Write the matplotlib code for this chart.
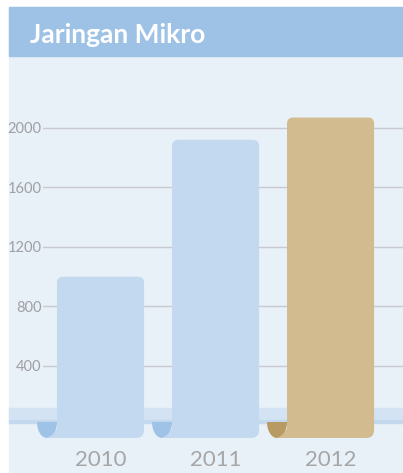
import numpy as np
import matplotlib
matplotlib.use('Agg')
import matplotlib.pyplot as plt
from matplotlib.patches import Rectangle, PathPatch
from matplotlib.path import Path
from matplotlib.transforms import IdentityTransform

# data
years = ['2010', '2011', '2012']
values = [1000, 1920, 2070]
bar_colors = ['#c2d9ef', '#c2d9ef', '#d1bb8f']
curl_colors = ['#9fc3e7', '#9fc3e7', '#b89b62']
yticks = [400, 800, 1200, 1600, 2000]

W, H = 403, 473
fig = plt.figure(figsize=(W / 100, H / 100), dpi=100)
fig.patch.set_facecolor('white')

# panel background, header and baseline band (pixel layout)
def frect(x, y, w, h, c):
    fig.patches.append(Rectangle((x / W, 1 - (y + h) / H), w / W, h / H,
                                 transform=fig.transFigure, color=c, zorder=-10))

frect(9, 7, W - 9, H - 7, '#e8f0f8')
frect(9, 7, W - 9, 49, '#9dc2e6')
frect(9, 408, W - 9, 12, '#d3e3f4')
frect(9, 420, W - 9, 3, '#c4d9ee')

fig.text(30 / W, 1 - 43 / H, 'Jaringan Mikro', color='white', fontsize=19,
         fontweight='bold', family='Lato', va='baseline')

ax = fig.add_axes([43 / W, 1 - 440 / H, (W - 43) / W, 340 / H])
ax.patch.set_alpha(0)
ax.set_xlim(-0.5, 2.63)
ax.set_ylim(-97.5, 2188)
for s in ax.spines.values():
    s.set_visible(False)
ax.set_axisbelow(True)
ax.yaxis.grid(True, color='#c9cacf', lw=1)
ax.set_yticks(yticks)
ax.set_yticklabels([str(t) for t in yticks], family='Lato')
ax.set_xticks(range(len(years)))
ax.set_xticklabels(years, family='Lato')
ax.tick_params(axis='y', length=0, pad=1, labelsize=10.5, labelcolor='#a0a0a4')
ax.tick_params(axis='x', length=0, pad=7, labelsize=16, labelcolor='#a6a6a6')

# bars with rounded tops and a rolled bottom-left corner
bw = 0.757
drop = 12.5
for i, v in enumerate(values):
    x0, yb = ax.transData.transform((i - bw / 2, 0))
    x1, yt = ax.transData.transform((i + bw / 2, v))
    b = yb - drop
    # curl behind the bar
    th = np.linspace(np.pi, 2 * np.pi, 40)
    cx, cy = x0 - 10, b + 16
    cverts = np.column_stack([cx + 10 * np.cos(th), cy + 16 * np.sin(th)])
    curl = PathPatch(Path(np.vstack([cverts, cverts[:1]])), transform=IdentityTransform(),
                     color=curl_colors[i], lw=0, clip_on=False, zorder=2)
    ax.add_patch(curl)
    r, r2 = 6, 8
    verts = [(x0, b + 10), (x0, yt - r), (x0, yt), (x0 + r, yt),
             (x1 - r, yt), (x1, yt), (x1, yt - r),
             (x1, b + r2), (x1, b), (x1 - r2, b),
             (x0 - 11, b), (x0 - 3, b + 2), (x0, b + 10), (x0, b + 10)]
    codes = [Path.MOVETO, Path.LINETO, Path.CURVE3, Path.CURVE3,
             Path.LINETO, Path.CURVE3, Path.CURVE3,
             Path.LINETO, Path.CURVE3, Path.CURVE3,
             Path.LINETO, Path.CURVE3, Path.CURVE3, Path.CLOSEPOLY]
    bar = PathPatch(Path(verts, codes), transform=IdentityTransform(),
                    color=bar_colors[i], lw=0, clip_on=False, zorder=3)
    ax.add_patch(bar)

fig.savefig('out.png', dpi=100)
